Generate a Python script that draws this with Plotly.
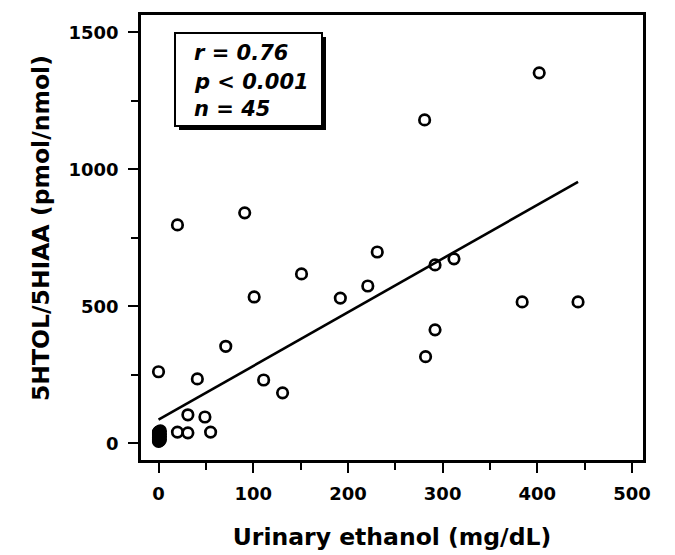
import plotly.graph_objects as go

# Data: urinary ethanol (mg/dL) vs 5HTOL/5HIAA (pmol/nmol)
ethanol = [402, 281, 91, 20, 231, 151, 221, 192, 101, 292, 312, 384, 443, 292, 282,
           71, 0, 41, 111, 131, 31, 49, 20, 31, 55]
ratio = [1352, 1180, 841, 797, 698, 618, 574, 530, 534, 651, 673, 516, 516, 414, 316,
         354, 261, 235, 231, 184, 104, 96, 41, 38, 41]

# dense cluster of samples with no detectable ethanol
cluster_ethanol = [0, 1, 0, 2, 0, 1, 0, 0, 2, 1, 0, 1, 0, 2, 0, 1, 0, 0, 1, 2]
cluster_ratio = [7, 9, 11, 13, 15, 18, 19, 22, 24, 25, 28, 30, 31, 34, 36, 37, 39, 41, 43, 45]

# regression line
fit_intercept = 86
fit_slope = 1.96
fit_x = [0, 443]
fit_y = [fit_intercept + fit_slope * v for v in fit_x]

stats_lines = ["r = 0.76", "p < 0.001", "n = 45"]

x_ticks = [0, 100, 200, 300, 400, 500]
y_ticks = [0, 500, 1000, 1500]

x_title = "Urinary ethanol (mg/dL)"
y_title = "5HTOL/5HIAA (pmol/nmol)"

FONT = "DejaVu Sans"
marker = dict(symbol="circle-open", size=10.5, color="black", line=dict(width=2.7, color="black"))

fig = go.Figure()
fig.add_trace(go.Scatter(x=fit_x, y=fit_y, mode="lines", line=dict(color="black", width=2.6),
                         hoverinfo="skip", showlegend=False))
fig.add_trace(go.Scatter(x=cluster_ethanol, y=cluster_ratio, mode="markers", marker=marker,
                         showlegend=False))
fig.add_trace(go.Scatter(x=ethanol, y=ratio, mode="markers", marker=marker, showlegend=False))

# plot area geometry in pixels (for placing the stats box)
L, R, T, B = 141, 32, 15, 95
W, H = 675, 555
pw, ph = W - L - R, H - T - B

def px(xp):
    return (xp - L) / pw

def py(yp):
    return (H - B - yp) / ph

# shadow + box
fig.add_shape(type="rect", xref="paper", yref="paper",
              x0=px(179), x1=px(326), y0=py(130), y1=py(37),
              fillcolor="black", line=dict(width=0), layer="above")
fig.add_shape(type="rect", xref="paper", yref="paper",
              x0=px(175), x1=px(322), y0=py(126), y1=py(33),
              fillcolor="white", line=dict(color="black", width=2), layer="above")

for txt, yp in zip(stats_lines, [53, 82, 109]):
    fig.add_annotation(x=px(192), y=py(yp), xref="paper", yref="paper",
                       text=txt.replace(" ", "\u00a0"), showarrow=False,
                       xanchor="left", yanchor="middle",
                       font=dict(family=FONT, size=21, color="black", weight="bold", style="italic"))

# y-axis title
fig.add_annotation(x=px(41), y=py(228), xref="paper", yref="paper", text=y_title,
                   textangle=-90, showarrow=False, xanchor="center", yanchor="middle",
                   font=dict(family=FONT, size=23.5, color="black", weight="bold"))

axis_common = dict(showline=True, linecolor="black", linewidth=2.6, mirror=True,
                   ticks="outside", ticklen=10, tickwidth=2.4, tickcolor="black",
                   showgrid=False, zeroline=False,
                   tickfont=dict(family=FONT, size=18, color="black", weight="bold"))

fig.update_xaxes(range=[-18.5, 511.6], tickvals=x_ticks, ticktext=[str(v) for v in x_ticks],
                 minor=dict(dtick=50, ticklen=7, tickwidth=2.2, tickcolor="black", ticks="outside"),
                 title=dict(text=x_title, standoff=26,
                            font=dict(family=FONT, size=23.5, color="black", weight="bold")),
                 ticklabelstandoff=6,
                 **axis_common)
fig.update_yaxes(range=[-61, 1563], tickvals=y_ticks, ticktext=[str(v) for v in y_ticks],
                 minor=dict(dtick=250, ticklen=7, tickwidth=2.2, tickcolor="black", ticks="outside"),
                 ticklabelstandoff=6,
                 **axis_common)

fig.update_layout(width=W, height=H, margin=dict(l=L, r=R, t=T, b=B, autoexpand=False),
                  paper_bgcolor="white", plot_bgcolor="white", showlegend=False)

fig.write_html("out.html")
